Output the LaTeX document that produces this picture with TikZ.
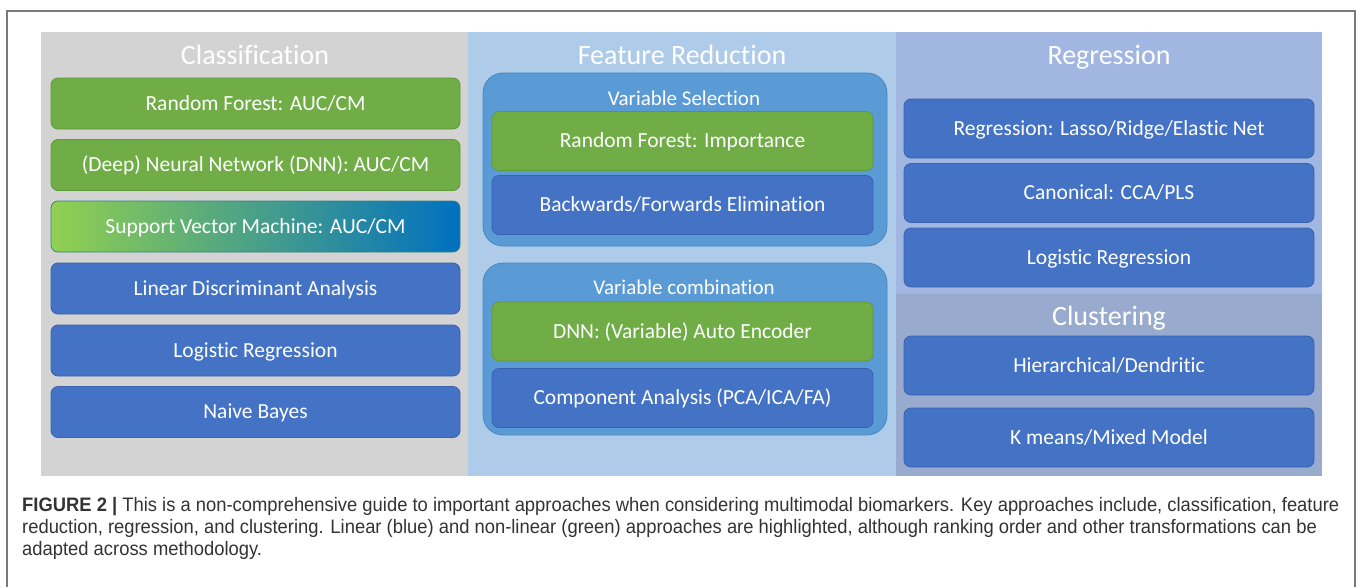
\documentclass[tikz,border=0pt]{standalone}
\usepackage{fontspec}
\setmainfont{Carlito}[Ligatures=NoCommon]
\newfontfamily\capfont[FakeStretch=0.943]{Liberation Sans}

\definecolor{framegray}{HTML}{7A7A7A}
\definecolor{clsgray}{HTML}{D3D3D3}
\definecolor{redblue}{HTML}{AECCEA}
\definecolor{regblue}{HTML}{A1B7E1}
\definecolor{clublue}{HTML}{98AACD}
\definecolor{boxblue}{HTML}{4472C4}
\definecolor{boxblueline}{HTML}{3862AE}
\definecolor{boxgreen}{HTML}{70AD47}
\definecolor{boxgreenline}{HTML}{5E9A38}
\definecolor{grpblue}{HTML}{5B9BD5}
\definecolor{grpline}{HTML}{4A86C0}
\definecolor{svmgreen}{HTML}{92D050}
\definecolor{svmmid}{HTML}{6DA98A}
\definecolor{svmblue}{HTML}{0070C0}
\definecolor{captext}{HTML}{333333}

\tikzset{
  method/.style={rounded corners=7pt, inner sep=0pt, line width=0.8pt,
    text=white, font=\fontsize{21.5}{25}\selectfont,
    text height=13.8pt, text depth=0pt},
  lin/.style={method, fill=boxblue, draw=boxblueline},
  nonlin/.style={method, fill=boxgreen, draw=boxgreenline},
  svm/.style={method, left color=svmgreen, middle color=svmmid,
    right color=svmblue, draw=svmblue!50!boxgreenline},
  clsbox/.style={minimum width=409pt, minimum height=51pt},
  selbox/.style={minimum width=381pt, minimum height=59pt},
  regbox/.style={minimum width=410pt, minimum height=59pt},
  grp/.style={rounded corners=20pt, fill=grpblue, draw=grpline,
    line width=0.8pt, inner sep=0pt, minimum width=404pt},
  ttl/.style={text=white, font=\fontsize{28}{32}\selectfont,
    inner sep=0pt, anchor=base},
  subttl/.style={text=white, font=\fontsize{21}{25}\selectfont,
    inner sep=0pt, anchor=base},
  captxt/.style={text=captext, font=\capfont\fontsize{19.5}{22}\selectfont,
    inner sep=0pt, anchor=base west}
}

\begin{document}
\begin{tikzpicture}[x=1pt,y=-1pt]
\useasboundingbox (0,0) rectangle (1358,587);

% frame, open at the bottom
\draw[framegray, line width=1.5pt] (7,587) -- (7,11) -- (1355,11) -- (1355,587);

% column backgrounds
\fill[clsgray] (41,32) rectangle (468,476);
\fill[redblue] (468,32) rectangle (896,476);
\fill[regblue] (896,32) rectangle (1322,294);
\fill[clublue] (896,294) rectangle (1322,476);

% classification
\node[ttl] (clstitle) at (255,64) {Classification};
\node[nonlin, clsbox] (rfauc) at (255.5,103.5) {Random Forest: AUC/CM};
\node[nonlin, clsbox] (dnnauc) at (255.5,165) {(Deep) Neural Network (DNN): AUC/CM};
\node[svm, clsbox] (svmauc) at (255.5,226.5) {Support Vector Machine: AUC/CM};
\node[lin, clsbox] (lda) at (255.5,288.5) {Linear Discriminant Analysis};
\node[lin, clsbox] (logcls) at (255.5,350.5) {Logistic Regression};
\node[lin, clsbox] (nbayes) at (255.5,412) {Naive Bayes};

% feature reduction
\node[ttl] (redtitle) at (682,64) {Feature Reduction};
\node[grp, minimum height=173pt] (selgrp) at (685,159.5) {};
\node[subttl] (seltitle) at (684,105) {Variable Selection};
\node[nonlin, selbox] (rfimp) at (682.5,141) {Random Forest: Importance};
\node[lin, selbox] (bfelim) at (682.5,205) {Backwards/Forwards Elimination};
\node[grp, minimum height=172pt] (combgrp) at (685,349) {};
\node[subttl] (combtitle) at (684,294) {Variable combination};
\node[nonlin, selbox] (dnnae) at (682.5,331.5) {DNN: (Variable) Auto Encoder};
\node[lin, selbox] (compan) at (682.5,398) {Component Analysis (PCA/ICA/FA)};

% regression
\node[ttl] (regtitle) at (1109,64) {Regression};
\node[lin, regbox] (lasso) at (1109,128.5) {Regression: Lasso/Ridge/Elastic Net};
\node[lin, regbox] (canon) at (1109,193) {Canonical: CCA/PLS};
\node[lin, regbox] (logreg) at (1109,257.5) {Logistic Regression};

% clustering
\node[ttl] (clutitle) at (1109,325) {Clustering};
\node[lin, regbox] (hier) at (1109,365.5) {Hierarchical/Dendritic};
\node[lin, regbox] (kmeans) at (1109,437.5) {K means/Mixed Model};

% caption
\node[captxt] (cap1) at (22,511) {\textbf{FIGURE 2 |} This is a non-comprehensive guide to important approaches when considering multimodal biomarkers. Key approaches include, classification, feature};
\node[captxt] (cap2) at (22,533) {reduction, regression, and clustering. Linear (blue) and non-linear (green) approaches are highlighted, although ranking order and other transformations can be};
\node[captxt] (cap3) at (22,555) {adapted across methodology.};
\end{tikzpicture}
\end{document}
